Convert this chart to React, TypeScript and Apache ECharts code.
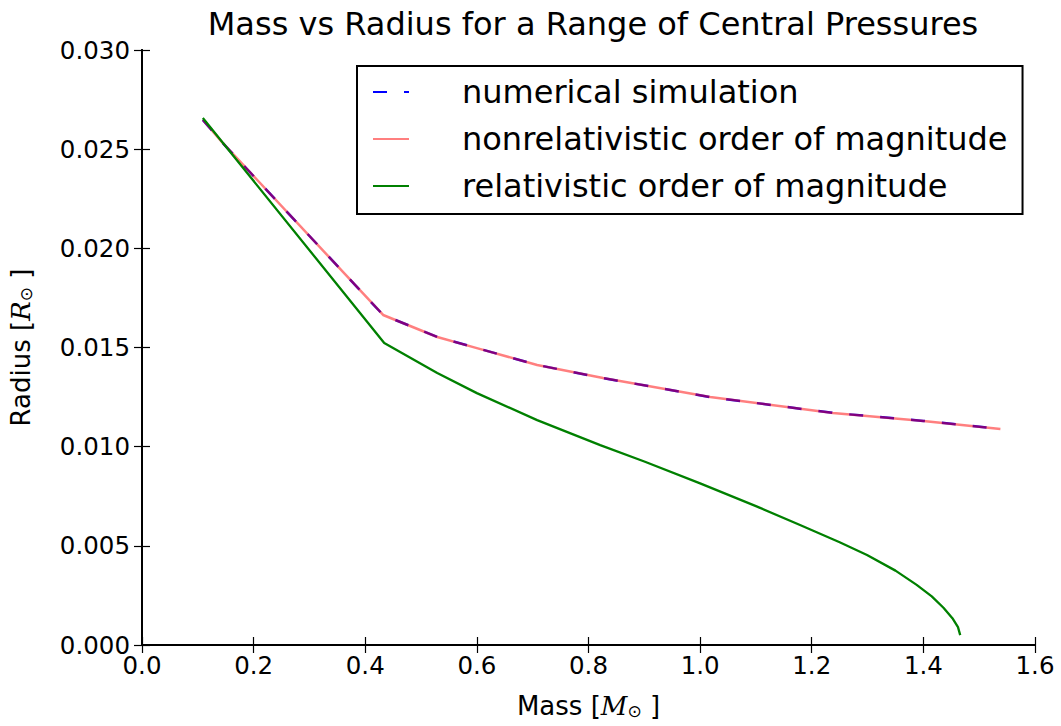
import React, { useEffect, useRef } from "react";
import * as echarts from "echarts";

const titleText = "Mass vs Radius for a Range of Central Pressures";
const legendNames = [
  "numerical simulation",
  "nonrelativistic order of magnitude",
  "relativistic order of magnitude",
];

// numerical simulation / nonrelativistic order of magnitude (overlapping)
const massNum = [0.109, 0.145, 0.432, 0.529, 0.6, 0.708, 0.826, 1.018, 1.238, 1.4, 1.538];
const radiusNum = [0.02648, 0.0253, 0.01664, 0.01553, 0.01497, 0.01412, 0.01346, 0.0125, 0.0117, 0.0113, 0.01089];
const massNonrel = [0.109, 0.145, 0.432, 0.529, 0.6, 0.708, 0.826, 1.018, 1.238, 1.4, 1.538];
const radiusNonrel = [0.02648, 0.0253, 0.01664, 0.01553, 0.01497, 0.01412, 0.01346, 0.0125, 0.0117, 0.0113, 0.01089];

// relativistic order of magnitude
const massRel = [0.109, 0.434, 0.529, 0.6, 0.708, 0.821, 0.9, 1.0, 1.1, 1.179, 1.25, 1.299, 1.35, 1.388, 1.415, 1.436, 1.452, 1.462, 1.466];
const radiusRel = [0.02657, 0.01523, 0.01371, 0.0127, 0.01134, 0.01008, 0.00925, 0.00815, 0.007, 0.00605, 0.00518, 0.00454, 0.00375, 0.00303, 0.00245, 0.00188, 0.00135, 0.0009, 0.0005];

const xTicks = { min: 0, max: 1.6, interval: 0.2 };
const yTicks = { min: 0, max: 0.03, interval: 0.005 };

const font = "DejaVu Sans";

function pairs(xs: number[], ys: number[]) {
  return xs.map((x, i) => [x, ys[i]]);
}

export default function App() {
  const ref = useRef<HTMLDivElement>(null);
  useEffect(() => {
    if (!ref.current) return;
    const chart = echarts.init(ref.current, null, { renderer: "svg" });
    const axisLine = { show: true, lineStyle: { color: "#000", width: 2 } };
    const tick = { show: true, inside: true, length: 8, lineStyle: { color: "#000", width: 1.2 } };
    const nameRich = {
      a: { fontFamily: font, fontSize: 26, color: "#000" },
      m: { fontFamily: "DejaVu Serif", fontStyle: "italic", fontSize: 26, color: "#000" },
      s: { fontFamily: font, fontSize: 17, color: "#000", verticalAlign: "bottom", padding: [10, 0, 0, 0] },
    };
    chart.setOption({
      animation: false,
      backgroundColor: "#fff",
      title: {
        text: titleText,
        left: 588,
        textAlign: "center",
        top: 3,
        textStyle: { fontFamily: font, fontSize: 32, fontWeight: "normal", color: "#000" },
      },
      grid: { left: 142, top: 50, right: 26, bottom: 81, outerBoundsMode: "none", containLabel: false },
      legend: {
        data: legendNames,
        orient: "vertical",
        left: 357,
        top: 66,
        itemWidth: 36,
        itemHeight: 14,
        itemGap: 15,
        padding: [10, 15, 12, 15],
        borderColor: "#000",
        borderWidth: 2,
        backgroundColor: "#fff",
        itemStyle: { color: "rgba(0,0,0,0)", borderWidth: 0 },
        textStyle: { fontFamily: font, fontSize: 32, lineHeight: 30, color: "#000", padding: [0, 0, 0, 48] },
      },
      xAxis: [
        {
          type: "value",
          min: xTicks.min,
          max: xTicks.max,
          interval: xTicks.interval,
          position: "bottom",
          axisLine,
          axisTick: tick,
          splitLine: { show: false },
          axisLabel: {
            fontFamily: font,
            fontSize: 24.5,
            color: "#000",
            margin: 8,
            formatter: (v: number) => v.toFixed(1),
          },
          name: "{a|Mass [}{m|M}{s|⊙}{a| ]}",
          nameLocation: "middle",
          nameGap: 47,
          nameTextStyle: { rich: nameRich },
        },
        {
          type: "value",
          min: xTicks.min,
          max: xTicks.max,
          interval: xTicks.interval,
          position: "top",
          axisLine,
          axisTick: tick,
          axisLabel: { show: false },
          splitLine: { show: false },
        },
      ],
      yAxis: [
        {
          type: "value",
          min: yTicks.min,
          max: yTicks.max,
          interval: yTicks.interval,
          position: "left",
          axisLine,
          axisTick: tick,
          splitLine: { show: false },
          axisLabel: {
            fontFamily: font,
            fontSize: 24.5,
            color: "#000",
            margin: 12,
            formatter: (v: number) => v.toFixed(3),
          },
          name: "{a|Radius [}{m|R}{s|⊙}{a| ]}",
          nameLocation: "middle",
          nameGap: 108,
          nameRotate: 90,
          nameTextStyle: { rich: nameRich },
        },
        {
          type: "value",
          min: yTicks.min,
          max: yTicks.max,
          interval: yTicks.interval,
          position: "right",
          axisLine,
          axisTick: tick,
          axisLabel: { show: false },
          splitLine: { show: false },
        },
      ],
      series: [
        {
          name: legendNames[0],
          type: "line",
          symbol: "none",
          data: pairs(massNum, radiusNum),
          itemStyle: { color: "#0000ff" },
          lineStyle: { color: "#0000ff", width: 2.5, type: [14, 17] },
          z: 2,
        },
        {
          name: legendNames[1],
          type: "line",
          symbol: "none",
          data: pairs(massNonrel, radiusNonrel),
          itemStyle: { color: "rgba(255,0,0,0.5)" },
          lineStyle: { color: "rgba(255,0,0,0.5)", width: 2.5 },
          z: 3,
        },
        {
          name: legendNames[2],
          type: "line",
          symbol: "none",
          data: pairs(massRel, radiusRel),
          itemStyle: { color: "#008000" },
          lineStyle: { color: "#008000", width: 2.3 },
          z: 4,
        },
      ],
    });
    return () => chart.dispose();
  }, []);
  return <div ref={ref} style={{ width: 1061, height: 726, position: "absolute", left: 0, top: 0 }} />;
}
